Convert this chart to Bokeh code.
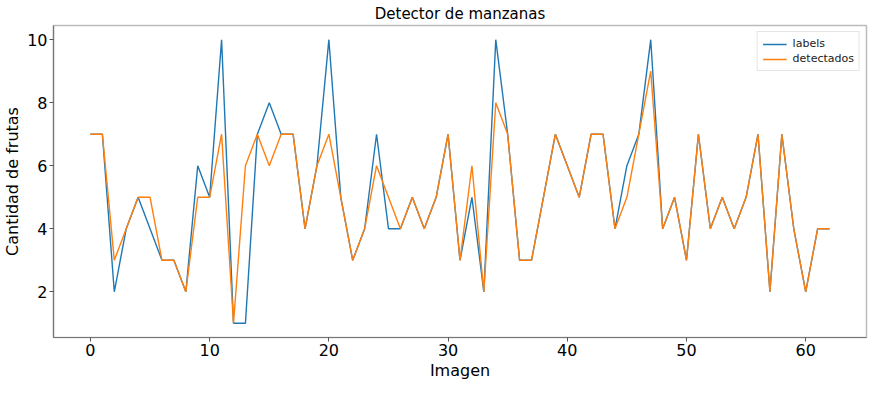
from bokeh.plotting import figure
from bokeh.models import FixedTicker, Range1d, Legend, LegendItem
from bokeh.embed import file_html
from bokeh.resources import INLINE

imagen = list(range(63))
labels = [7, 7, 2, 4, 5, 4, 3, 3, 2, 6,
          5, 10, 1, 1, 7, 8, 7, 7, 4, 6,
          10, 5, 3, 4, 7, 4, 4, 5, 4, 5,
          7, 3, 5, 2, 10, 7, 3, 3, 5, 7,
          6, 5, 7, 7, 4, 6, 7, 10, 4, 5,
          3, 7, 4, 5, 4, 5, 7, 2, 7, 4,
          2, 4, 4]
detectados = [7, 7, 3, 4, 5, 5, 3, 3, 2, 5,
              5, 7, 1, 6, 7, 6, 7, 7, 4, 6,
              7, 5, 3, 4, 6, 5, 4, 5, 4, 5,
              7, 3, 6, 2, 8, 7, 3, 3, 5, 7,
              6, 5, 7, 7, 4, 5, 7, 9, 4, 5,
              3, 7, 4, 5, 4, 5, 7, 2, 7, 4,
              2, 4, 4]
x_ticks = [0, 10, 20, 30, 40, 50, 60]
y_ticks = [2, 4, 6, 8, 10]

FONT = "DejaVu Sans"

p = figure(width=870, height=382, output_backend="svg", toolbar_location=None,
           x_range=Range1d(-3.1, 65.1), y_range=Range1d(0.55, 10.45),
           title="Detector de manzanas")
p.min_border_left = 0
p.min_border_right = 4
p.min_border_top = 0
p.min_border_bottom = 0

p.title.align = "center"
p.title.text_font = FONT
p.title.text_font_size = "15px"
p.title.text_font_style = "normal"
p.title.text_color = "black"
p.title.standoff = 5

r1 = p.line(imagen, labels, line_color="#1f77b4", line_width=1.4)
r2 = p.line(imagen, detectados, line_color="#ff7f0e", line_width=1.4)

p.xgrid.visible = False
p.ygrid.visible = False
p.background_fill_color = "white"
p.border_fill_color = "white"
p.outline_line_color = "#bbbbbb"
p.outline_line_width = 1.5

for ax in (p.xaxis[0], p.yaxis[0]):
    ax.major_label_text_font = FONT
    ax.major_label_text_font_size = "16px"
    ax.major_label_text_color = "black"
    ax.axis_label_text_font = FONT
    ax.axis_label_text_font_size = "16px"
    ax.axis_label_text_font_style = "normal"
    ax.axis_label_text_color = "black"
    ax.axis_line_color = "#777777"
    ax.axis_line_width = 1.2
    ax.major_tick_line_color = "#555555"
    ax.major_tick_out = 4
    ax.major_tick_in = 0
    ax.minor_tick_out = 0
    ax.minor_tick_in = 0
    ax.major_label_standoff = 2
    ax.axis_label_standoff = 2

p.xaxis.ticker = FixedTicker(ticks=x_ticks)
p.yaxis.ticker = FixedTicker(ticks=y_ticks)
p.xaxis.axis_label = "Imagen"
p.yaxis.axis_label = "Cantidad de frutas"

legend = Legend(items=[LegendItem(label="labels", renderers=[r1]),
                       LegendItem(label="detectados", renderers=[r2])],
                location="top_right")
legend.label_text_font = FONT
legend.label_text_font_size = "11px"
legend.label_text_color = "#222222"
legend.glyph_width = 24
legend.glyph_height = 12
legend.label_height = 12
legend.spacing = 2
legend.padding = 5
legend.margin = 6
legend.label_standoff = 6
legend.border_line_color = "#cccccc"
legend.border_line_width = 1
legend.background_fill_alpha = 0.8
p.add_layout(legend)

open("out.html", "w").write(file_html(p, INLINE))
